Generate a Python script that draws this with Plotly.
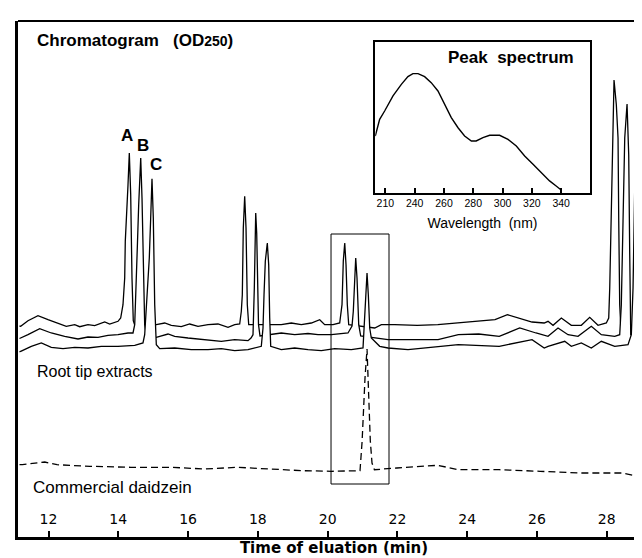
import plotly.graph_objects as go

# ---------------- data ----------------
# Root tip extract chromatograms (time in min, OD250 signal in arbitrary units)
time_a = [11.169, 11.203, 11.412, 11.699, 11.986, 12.272, 12.510, 12.751, 12.894, 13.132, 13.324, 13.611,
          13.754, 13.992, 14.069, 14.135, 14.184, 14.201, 14.259, 14.279, 14.316, 14.356, 14.393, 14.430,
          14.479, 14.565, 14.852, 15.090, 15.330, 15.520, 15.806, 16.047, 16.285, 16.572, 16.858, 17.145,
          17.337, 17.480, 17.526, 17.555, 17.583, 17.623, 17.661, 17.698, 17.738, 18.005, 18.386, 18.672,
          18.959, 19.246, 19.532, 19.773, 19.916, 20.154, 20.346, 20.412, 20.449, 20.490, 20.527, 20.564,
          20.604, 21.350, 21.539, 21.923, 22.570, 23.158, 23.745, 24.330, 24.797, 25.153, 25.505, 25.858,
          26.207, 26.316, 26.460, 26.698, 26.984, 27.271, 27.511, 27.749, 27.987, 28.056, 28.085, 28.113,
          28.131, 28.159, 28.208, 28.274, 28.323, 28.343, 28.371, 28.400, 28.609, 29.240]
sig_a = [210, 209.7, 215.3, 220.3, 216.3, 212.3, 209.7, 211.3, 209.3, 211.3, 210.3, 214,
         212, 214.7, 218, 231.3, 258, 294.7, 331.3, 351.3, 383, 341.3, 258, 215.3,
         210, 211, 211.5, 211.3, 213, 210.7, 209.3, 212, 209.7, 211.3, 212, 208.7,
         211.3, 212, 224.7, 241.3, 308, 339.7, 308, 231.3, 211.3, 211, 211.3, 211.3,
         213, 211.3, 213, 216.3, 211.3, 211.3, 213, 231.3, 275, 293, 271.3, 231.3,
         211.3, 208, 211.3, 211.3, 210.7, 211.3, 213, 214.7, 216.3, 221.3, 217.3, 214,
         213, 214.7, 210.7, 218, 210.7, 210.7, 218.7, 210.7, 213, 218, 248, 298,
         325, 398, 456, 431.3, 398, 315, 231.3, 211, 211, 210]

time_b = [11.169, 11.203, 11.412, 11.748, 12.080, 12.464, 12.846, 13.132, 13.419, 13.705, 13.992, 14.279,
          14.422, 14.471, 14.516, 14.545, 14.585, 14.623, 14.643, 14.680, 14.717, 14.757, 14.803, 15.090,
          15.425, 15.617, 15.998, 16.572, 16.953, 17.337, 17.718, 17.804, 17.861, 17.899, 17.919, 17.939,
          17.967, 17.990, 18.019, 18.062, 18.386, 18.672, 19.056, 19.438, 19.724, 20.105, 20.584, 20.699,
          20.736, 20.776, 20.805, 20.842, 20.891, 20.948, 21.252, 21.731, 22.570, 23.164, 23.745, 24.330,
          24.918, 25.505, 25.972, 26.316, 26.603, 26.890, 27.176, 27.557, 27.844, 28.228, 28.371, 28.417,
          28.466, 28.515, 28.581, 28.629, 28.658, 28.687, 28.896, 29.240]
sig_b = [197.5, 198, 201.3, 207.3, 203, 199.7, 197, 199, 198.7, 200.7, 201.3, 203,
         203, 211.3, 248, 288, 331.3, 358, 378, 338, 265, 211.3, 201.3, 198.7,
         202, 199.7, 198, 195.7, 194.7, 196.3, 195.3, 198, 201.3, 248, 298, 323,
         303, 248, 211.3, 200, 201.3, 203, 201.3, 202.5, 201.3, 201.3, 203, 210,
         224.7, 264.7, 278, 258, 211.3, 200, 198.7, 196.3, 196.3, 196.3, 201.3, 202,
         199.7, 208, 203, 199.7, 208, 201.3, 199.7, 209.7, 201.3, 199.7, 201.3, 231.3,
         315, 398, 432, 381.3, 281.3, 201.3, 200, 203]

time_c = [11.169, 11.203, 11.507, 11.794, 12.080, 12.416, 12.751, 13.132, 13.513, 13.992, 14.471, 14.708,
          14.757, 14.832, 14.889, 14.929, 14.966, 15.004, 15.044, 15.090, 15.187, 15.617, 16.093, 16.572,
          16.953, 17.337, 17.718, 18.099, 18.148, 18.177, 18.214, 18.271, 18.311, 18.340, 18.369, 18.672,
          19.056, 19.438, 19.819, 20.203, 20.679, 21.014, 21.063, 21.091, 21.129, 21.166, 21.206, 21.252,
          21.350, 21.493, 21.731, 22.304, 23.745, 24.918, 25.858, 26.207, 26.316, 26.795, 26.984, 27.271,
          27.557, 27.844, 28.228, 28.609, 28.704, 28.753, 28.801, 28.847, 28.896, 28.944, 28.990, 29.039,
          29.182, 29.240]
sig_c = [184, 184.7, 189.7, 193, 188.7, 187.3, 188.7, 188, 189.7, 189.7, 190.7, 193,
         201.3, 241.3, 278, 318, 357.3, 318, 231.3, 191.3, 187.3, 188, 186.3, 186.3,
         187.3, 185.3, 186.3, 189.7, 208, 241.3, 274.7, 293, 271.3, 218, 189.7, 186.3,
         188, 186.3, 185.3, 187.3, 186.3, 188, 218, 241.3, 263, 241.3, 208, 198,
         194.7, 189.7, 188, 186.3, 191.3, 189.7, 196.3, 188, 189.7, 194.7, 189.7, 193,
         188, 194.7, 189.7, 191.3, 201.3, 248, 348, 414.7, 427.3, 381.3, 248, 194.7,
         191.3, 191]

# Commercial daidzein chromatogram (dashed)
time_std = [11.169, 11.249, 11.894, 12.246, 13.187, 14.359, 15.531, 16.471, 17.408, 18.349, 19.286, 20.108,
            20.928, 20.988, 21.023, 21.071, 21.129, 21.163, 21.186, 21.223, 21.272, 21.341, 21.986, 23.158,
            23.745, 24.918, 26.090, 27.265, 28.437, 28.907, 29.240]
sig_std = [71.3, 71.3, 74, 71.3, 69.7, 68.7, 68.7, 67, 68.7, 67, 65.3, 64.7,
           65.3, 94.7, 128, 158, 187, 148, 128, 95, 73, 66.3, 68, 70.7,
           66.3, 66.3, 64.7, 63, 63, 59.7, 59.7]

# Peak spectrum (inset)
wavelength = [213.1, 216.1, 219.5, 225.2, 230.9, 235.4, 238.8, 242.3, 246.8, 251.3, 255.9, 260.5,
              265.0, 269.6, 274.1, 278.7, 282.0, 286.6, 291.2, 298.0, 303.7, 309.4, 315.1, 320.8,
              326.4, 332.1, 336.6, 340.0]
absorb = [0.376, 0.487, 0.542, 0.642, 0.719, 0.770, 0.790, 0.790, 0.770, 0.730, 0.675, 0.587,
          0.498, 0.431, 0.376, 0.343, 0.343, 0.365, 0.381, 0.381, 0.354, 0.310, 0.244, 0.188,
          0.133, 0.078, 0.044, 0.018]

time_ticks = [12, 14, 16, 18, 20, 22, 24, 26, 28]
time_tick_text = ["12", "14", "16", "18", "20", "22", "24", "26", "28"]
wl_ticks = [220, 240, 260, 280, 300, 320, 340]
wl_tick_text = ["210", "240", "260", "280", "300", "320", "340"]

peak_labels = ["A", "B", "C"]
peak_label_time = [14.24, 14.72, 15.08]
peak_label_sig = [400.5, 390.5, 372]

# ---------------- figure ----------------
SANS = "Liberation Sans, Arial, Helvetica, sans-serif"
fig = go.Figure()

for tx, sy in [(time_a, sig_a), (time_b, sig_b), (time_c, sig_c)]:
    fig.add_trace(go.Scatter(x=tx, y=sy, mode="lines",
                             line=dict(color="black", width=1.3),
                             fill="tozeroy", fillcolor="white",
                             hoverinfo="skip", showlegend=False))

fig.add_trace(go.Scatter(x=time_std, y=sig_std, mode="lines",
                         line=dict(color="black", width=1.3, dash="7px,4px"),
                         hoverinfo="skip", showlegend=False))

fig.add_trace(go.Scatter(x=wavelength, y=absorb, mode="lines",
                         line=dict(color="black", width=1.4),
                         xaxis="x2", yaxis="y2", hoverinfo="skip", showlegend=False))

for lab, tx, sy in zip(peak_labels, peak_label_time, peak_label_sig):
    fig.add_annotation(x=tx, y=sy, xref="x", yref="y", text="<b>" + lab + "</b>",
                       showarrow=False, font=dict(family=SANS, size=17, color="black"))

fig.add_annotation(x=0.0263, y=0.9618, xref="paper", yref="paper", xanchor="left", yanchor="middle",
                   text="<b>Chromatogram\u00a0\u00a0\u00a0(OD<span style='font-size:14px'>250</span>)</b>",
                   showarrow=False, font=dict(family=SANS, size=17, color="black"))
fig.add_annotation(x=0.780, y=0.9289, xref="paper", yref="paper", xanchor="center", yanchor="middle",
                   text="<b>Peak\u00a0\u00a0spectrum</b>", showarrow=False,
                   font=dict(family=SANS, size=17, color="black"))
fig.add_annotation(x=0.0263, y=0.3211, xref="paper", yref="paper", xanchor="left", yanchor="middle",
                   text="Root tip extracts", showarrow=False,
                   font=dict(family=SANS, size=16, color="black"))
fig.add_annotation(x=0.0198, y=0.0963, xref="paper", yref="paper", xanchor="left", yanchor="middle",
                   text="Commercial daidzein", showarrow=False,
                   font=dict(family=SANS, size=17, color="black"))

# box around the daidzein peak
fig.add_shape(type="rect", xref="x", yref="y", x0=20.097, x1=21.759, y0=52, y1=302,
              line=dict(color="black", width=1), layer="above")
# top frame line
fig.add_shape(type="line", xref="paper", yref="paper", x0=0, x1=1, y0=1, y1=1,
              line=dict(color="black", width=2), layer="above")

fig.update_layout(
    width=642, height=558,
    margin=dict(l=10, r=0, t=13, b=29),
    paper_bgcolor="white", plot_bgcolor="white",
    showlegend=False,
    xaxis=dict(domain=[0, 1], range=[11.126, 29.239],
               tickvals=time_ticks, ticktext=time_tick_text,
               ticks="inside", ticklen=6, tickwidth=2, tickcolor="black",
               ticklabelposition="inside", ticklabelstandoff=4,
               tickfont=dict(family="DejaVu Sans", size=14, color="black"),
               showline=True, linewidth=3, linecolor="black", mirror=False,
               showgrid=False, zeroline=False,
               title=dict(text="<b>Time of eluation (min)</b>",
                          font=dict(family="DejaVu Sans", size=15, color="black"), standoff=17)),
    yaxis=dict(range=[-1, 515], showline=True, linewidth=3, linecolor="black",
               showticklabels=False, ticks="", showgrid=False, zeroline=False),
    xaxis2=dict(domain=[0.5653, 0.9046], anchor="y2", range=[213.1, 359.5],
                tickvals=wl_ticks, ticktext=wl_tick_text,
                ticks="inside", ticklen=5, tickwidth=1.5, tickcolor="black",
                tickfont=dict(family=SANS, size=10.5, color="black"),
                showline=True, mirror=True, linewidth=1.5, linecolor="black",
                showgrid=False, zeroline=False,
                title=dict(text="Wavelength\u00a0 (nm)", font=dict(family=SANS, size=14, color="black"),
                           standoff=10)),
    yaxis2=dict(domain=[0.6673, 0.9593], anchor="x2", range=[0, 1],
                showline=True, mirror=True, linewidth=1.5, linecolor="black",
                showticklabels=False, ticks="", showgrid=False, zeroline=False),
)

fig.write_html("out.html")
